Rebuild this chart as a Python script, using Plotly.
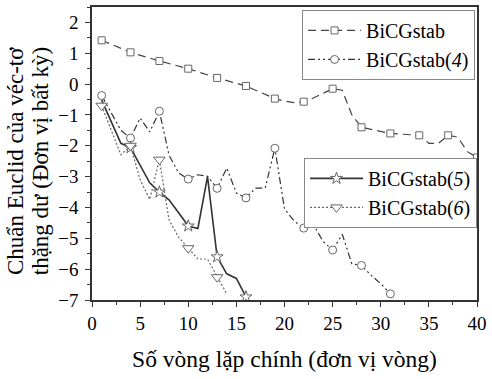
import plotly.graph_objects as go

# ---------------- data ----------------
# BiCGstab (squares, dashed): iteration -> log residual
bicg_x = [1, 4, 7, 10, 13, 16, 19, 20, 21, 22, 23, 24, 25, 26, 27, 28, 31, 34, 35, 36, 37, 38, 39, 40]
bicg_y = [1.42, 1.03, 0.75, 0.50, 0.20, -0.06, -0.47, -0.55, -0.60, -0.57, -0.45, -0.30, -0.15, -0.20,
          -1.00, -1.40, -1.60, -1.66, -1.92, -1.92, -1.66, -1.72, -2.19, -2.38]
bicg_mark = [1, 4, 7, 10, 13, 16, 19, 22, 25, 28, 31, 34, 37, 40]

# BiCGstab(4) (circles, dash-dot-dot)
b4_x = list(range(1, 32))
b4_y = [-0.37, -0.95, -1.50, -1.75, -1.10, -1.55, -0.88, -2.30, -2.88, -3.08, -2.94, -2.99, -3.38,
        -2.72, -3.53, -3.69, -3.37, -3.37, -2.08, -4.05, -4.44, -4.67, -4.55, -5.10, -5.38, -4.87,
        -5.83, -5.88, -6.20, -6.47, -6.80]
b4_mark = [1, 4, 7, 10, 13, 16, 19, 22, 25, 28, 31]

# BiCGstab(5) (stars, solid)
b5_x = list(range(1, 17))
b5_y = [-0.52, -1.20, -1.92, -2.06, -2.65, -3.20, -3.50, -3.75, -4.17, -4.60, -4.68, -3.00,
        -5.60, -6.15, -6.30, -6.90]
b5_mark = [4, 7, 10, 13, 16]

# BiCGstab(6) (down triangles, dotted)
b6_x = list(range(1, 15))
b6_y = [-0.70, -1.50, -2.29, -2.00, -3.10, -3.74, -2.45, -4.40, -4.97, -5.32, -5.67, -5.67,
        -6.26, -6.80]
b6_mark = [1, 4, 7, 10, 13]

names = ["BiCGstab", "BiCGstab(<i>4</i>)", "BiCGstab(<i>5</i>)", "BiCGstab(<i>6</i>)"]

x_ticks = list(range(0, 41, 5))
y_ticks = list(range(-7, 3))

x_title = "Số vòng lặp chính (đơn vị vòng)"
y_title_lines = ["Chuẩn Euclid của véc-tơ", "thặng dư (Đơn vị bất kỳ)"]

FONT = "Liberation Serif, DejaVu Serif, serif"

# ---------------- figure ----------------
fig = go.Figure()

series = [
    (bicg_x, bicg_y, bicg_mark, names[0], "8px,5px", 1.2, "#444", "square", 7, "legend"),
    (b4_x, b4_y, b4_mark, names[1], "7px,3px,2px,3px,2px,3px", 1.2, "#333", "circle", 8, "legend"),
    (b5_x, b5_y, b5_mark, names[2], "solid", 1.6, "#333", "star", 9, "legend2"),
    (b6_x, b6_y, b6_mark, names[3], "2px,2px", 1.2, "#666", "triangle-down", 10, "legend2"),
]

for xs, ys, marks, name, dash, lw, col, sym, ms, leg in series:
    fig.add_trace(go.Scatter(x=xs, y=ys, mode="lines", showlegend=False,
                             line=dict(color=col, width=lw, dash=dash)))
    mx = [x for x in xs if x in marks]
    my = [y for x, y in zip(xs, ys) if x in marks]
    fig.add_trace(go.Scatter(x=mx, y=my, mode="markers", showlegend=False,
                             marker=dict(symbol=sym, size=ms, color="white",
                                         line=dict(color="#666", width=1))))
    fig.add_trace(go.Scatter(x=[None], y=[None], mode="lines+markers", name=name, legend=leg,
                             line=dict(color=col, width=lw, dash=dash),
                             marker=dict(symbol=sym, size=ms, color="white",
                                         line=dict(color="#666", width=1))))

axis_common = dict(
    showgrid=False, zeroline=False, showline=True, linecolor="#333", linewidth=1.5,
    mirror=True, ticks="outside", ticklen=5, tickwidth=1, tickcolor="#333",
    tickfont=dict(family=FONT, size=19, color="black"),
    minor=dict(ticks="outside", ticklen=3, tickwidth=1, tickcolor="#333"),
)

fig.update_xaxes(range=[0, 40], tickvals=x_ticks, minor_dtick=2.5,
                 title=dict(text=x_title,
                            font=dict(family=FONT, size=23.5, color="black"), standoff=18),
                 **axis_common)
fig.update_yaxes(range=[-7, 2.5], tickvals=y_ticks, minor_dtick=0.5, ticklabelstandoff=3,
                 **axis_common)

# two-line rotated y-axis title
for line_txt, xpos in zip(y_title_lines, [-0.197, -0.134]):
    fig.add_annotation(text=line_txt, xref="paper", yref="paper", x=xpos, y=0.475,
                       xanchor="center", yanchor="middle", textangle=-90, showarrow=False,
                       font=dict(family=FONT, size=23, color="black"))

legend_common = dict(bgcolor="white", bordercolor="#888", borderwidth=1,
                     font=dict(family=FONT, size=20, color="black"),
                     itemwidth=53, tracegroupgap=0)

fig.update_layout(
    width=492, height=379,
    margin=dict(l=92, r=11, t=5, b=79),
    paper_bgcolor="white", plot_bgcolor="white",
    legend=dict(x=0.995, y=0.99, xanchor="right", yanchor="top", **legend_common),
    legend2=dict(x=1.0, y=0.485, xanchor="right", yanchor="top", **legend_common),
)

fig.write_html("out.html", config={"displayModeBar": False},
               post_script="document.body.style.margin='0px';")
